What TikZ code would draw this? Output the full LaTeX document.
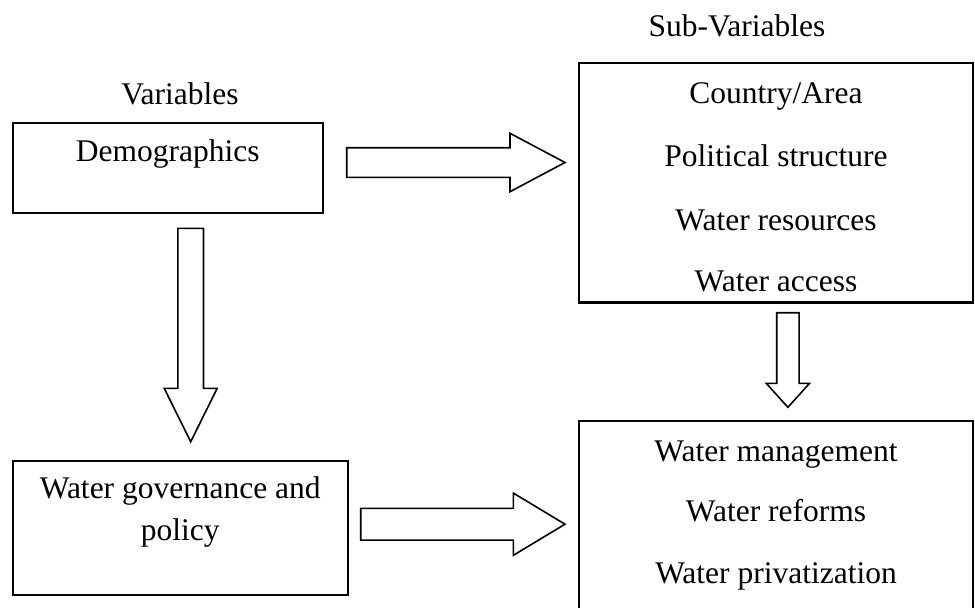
\documentclass[tikz,border=0pt]{standalone}
\usepackage{fontspec}
\setmainfont{Liberation Serif}
\usetikzlibrary{calc}
\begin{document}
\begin{tikzpicture}[x=1pt,y=-1pt,
  box/.style={draw=black, line width=2.2pt, inner sep=0pt},
  lbl/.style={anchor=base, inner sep=0pt, font=\fontsize{31.5}{38}\selectfont},
  blk/.style={draw=black, line width=1.6pt, line join=miter, fill=white}]
\useasboundingbox (0,0) rectangle (975,608);
% boxes
\node[box, minimum width=310pt, minimum height=90pt] (demo) at (167.7,167.7) {};
\node[box, minimum width=335pt, minimum height=134.3pt] (gov) at (180.2,527.85) {};
\node[box, minimum width=394pt, minimum height=239.5pt] (sub) at (776,182.75) {};
\node[box, minimum width=394pt, minimum height=194.3pt] (mgmt) at (776,517.85) {};
% titles
\node[lbl] (tvar) at (180,104) {Variables};
\node[lbl] (tsub) at (737,36) {Sub-Variables};
% texts
\node[lbl] (tdemo) at (167.7,161.7) {Demographics};
\node[lbl] (tgov1) at (180.2,498) {Water governance and};
\node[lbl] (tgov2) at (180.2,540) {policy};
\node[lbl] (s1) at (776,103.3) {Country/Area};
\node[lbl] (s2) at (776,166.7) {Political structure};
\node[lbl] (s3) at (776,230) {Water resources};
\node[lbl] (s4) at (776,291) {Water access};
\node[lbl] (m1) at (776,461.7) {Water management};
\node[lbl] (m2) at (776,521.7) {Water reforms};
\node[lbl] (m3) at (776,583) {Water privatization};
% block arrows
\coordinate (a1s) at (346.7,162.5); \coordinate (a1e) at (565,162.5);
\coordinate (a4s) at (360.7,524.2); \coordinate (a4e) at (565,524.2);
\coordinate (a2s) at (190.7,228.3); \coordinate (a2e) at (190.7,441.7);
\coordinate (a3s) at (787.9,312.7); \coordinate (a3e) at (787.9,407.3);
% right arrow top
\draw[blk] ($(a1s)+(0,-14.8)$) -- ($(a1e)+(-55,-14.8)$) -- ($(a1e)+(-55,-29.2)$) -- (a1e)
  -- ($(a1e)+(-55,29.2)$) -- ($(a1e)+(-55,14.8)$) -- ($(a1s)+(0,14.8)$) -- cycle;
% right arrow bottom
\draw[blk] ($(a4s)+(0,-15.85)$) -- ($(a4e)+(-51.7,-15.85)$) -- ($(a4e)+(-51.7,-31.15)$) -- (a4e)
  -- ($(a4e)+(-51.7,31.15)$) -- ($(a4e)+(-51.7,15.85)$) -- ($(a4s)+(0,15.85)$) -- cycle;
% down arrow left
\draw[blk] ($(a2s)+(-12.8,0)$) -- ($(a2e)+(-12.8,-53.4)$) -- ($(a2e)+(-26.5,-53.4)$) -- (a2e)
  -- ($(a2e)+(26.5,-53.4)$) -- ($(a2e)+(12.8,-53.4)$) -- ($(a2s)+(12.8,0)$) -- cycle;
% down arrow right
\draw[blk] ($(a3s)+(-11.15,0)$) -- ($(a3e)+(-11.15,-24)$) -- ($(a3e)+(-21.65,-24)$) -- (a3e)
  -- ($(a3e)+(21.65,-24)$) -- ($(a3e)+(11.15,-24)$) -- ($(a3s)+(11.15,0)$) -- cycle;
\end{tikzpicture}
\end{document}
